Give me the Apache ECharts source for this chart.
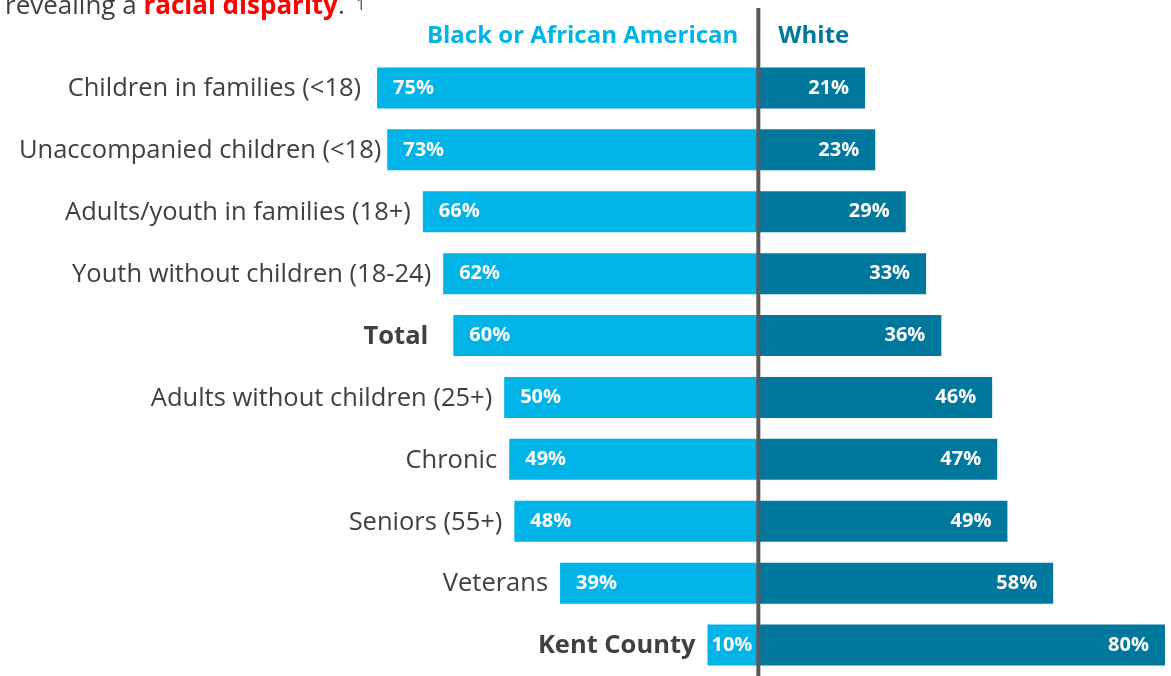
<!DOCTYPE html>
<html>
<head>
<meta charset="utf-8">
<script src="https://cdn.jsdelivr.net/npm/echarts@6/dist/echarts.min.js"></script>
<style>
  html, body { margin: 0; padding: 0; background: #fff; }
  #chart { width: 1171px; height: 676px; }
</style>
</head>
<body>
<div id="chart"></div>
<script>
const categories = [
    'Children in families (<18)',
    'Unaccompanied children (<18)',
    'Adults/youth in families (18+)',
    'Youth without children (18-24)',
    'Total',
    'Adults without children (25+)',
    'Chronic',
    'Seniors (55+)',
    'Veterans',
    'Kent County',
];
const blackValues = [75, 73, 66, 62, 60, 50, 49, 48, 39, 10];
const whiteValues = [21, 23, 29, 33, 36, 46, 47, 49, 58, 80];
const boldCategories = ['Total', 'Kent County'];

const BLUE = '#00b4e8';
const TEAL = '#00779d';
const TEXT = '#404040';
const FONT = '"Open Sans", sans-serif';

// gap between a category name and its bar, where it differs from the usual 12px
const nameGap = { 'Children in families (<18)': 16, 'Unaccompanied children (<18)': 6, 'Total': 25 };

const chart = echarts.init(document.getElementById('chart'));

option = {
    animation: false,
    title: {
        left: 0,
        top: -11,
        text: '{n|revealing a }{r|racial disparity}{n|.}',
        textStyle: {
            rich: {
                n: { fontFamily: FONT, fontSize: 26, color: TEXT, fontWeight: 'normal' },
                r: { fontFamily: FONT, fontSize: 26, color: '#ff0000', fontWeight: 'bold' },
            },
        },
    },
    grid: {
        left: 250,
        right: 6,
        top: 57,
        bottom: -3,
    },
    xAxis: {
        type: 'value',
        min: -100,
        max: 80,
        show: false,
    },
    yAxis: {
        type: 'category',
        data: categories,
        inverse: true,
        show: false,
    },
    series: [
        {
            // category names, sitting just left of each blue bar
            type: 'bar',
            data: blackValues.map((v, i) => ({
                value: -v,
                label: { distance: nameGap[categories[i]] || 12 },
            })),
            barWidth: 41,
            barGap: '-100%',
            itemStyle: { color: 'transparent' },
            silent: true,
            label: {
                show: true,
                position: 'left',
                offset: [0, 1],
                fontFamily: FONT,
                fontSize: 25.5,
                color: TEXT,
                formatter: p => boldCategories.includes(p.name) ? '{b|' + p.name + '}' : p.name,
                rich: {
                    b: { fontFamily: FONT, fontSize: 25.5, color: TEXT, fontWeight: 'bold' },
                },
            },
        },
        {
            name: 'Black or African American',
            type: 'bar',
            data: blackValues.map((v, i) => ({
                value: -v,
                label: i === blackValues.length - 1 ? { distance: 4 } : undefined,
            })),
            barWidth: 41,
            barGap: '-100%',
            itemStyle: { color: BLUE },
            label: {
                show: true,
                position: 'insideLeft',
                distance: 16,
                fontFamily: FONT,
                fontWeight: 'bold',
                fontSize: 20,
                color: '#fff',
                formatter: p => Math.abs(p.value) + '%',
            },
        },
        {
            name: 'White',
            type: 'bar',
            data: whiteValues,
            barWidth: 41,
            barGap: '-100%',
            itemStyle: { color: TEAL },
            label: {
                show: true,
                position: 'insideRight',
                distance: 16,
                fontFamily: FONT,
                fontWeight: 'bold',
                fontSize: 20,
                color: '#fff',
                formatter: p => p.value + '%',
            },
        },
    ],
};

chart.setOption(option);

// divider line at zero, the two column headers and the footnote mark
const zeroX = chart.convertToPixel({ xAxisIndex: 0 }, 0);
chart.setOption({
    graphic: [
        {
            type: 'rect',
            z: 100,
            shape: { x: zeroX - 2, y: 8, width: 4, height: 676 },
            style: { fill: '#595959' },
        },
        {
            type: 'text',
            x: zeroX - 20,
            y: 36,
            style: {
                text: 'Black or African American',
                align: 'right',
                verticalAlign: 'middle',
                fontFamily: FONT,
                fontWeight: 'bold',
                fontSize: 24,
                fill: BLUE,
            },
        },
        {
            type: 'text',
            x: zeroX + 20,
            y: 36,
            style: {
                text: 'White',
                align: 'left',
                verticalAlign: 'middle',
                fontFamily: FONT,
                fontWeight: 'bold',
                fontSize: 24,
                fill: TEAL,
            },
        },
        {
            type: 'text',
            x: 356,
            y: -3,
            style: {
                text: '1',
                verticalAlign: 'top',
                fontFamily: FONT,
                fontSize: 17,
                fill: '#595959',
            },
        },
    ],
});
</script>
</body>
</html>
